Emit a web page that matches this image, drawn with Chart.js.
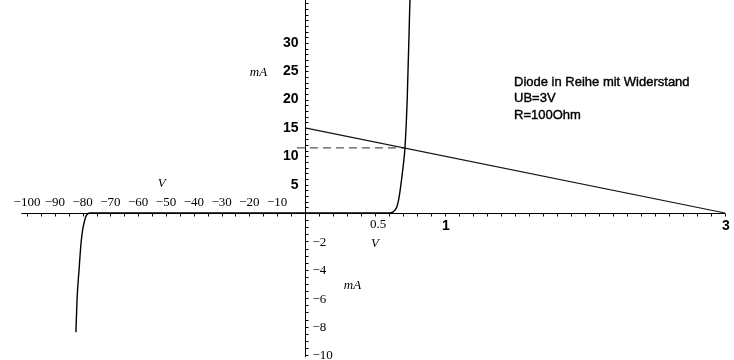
<!DOCTYPE html>
<html>
<head>
<meta charset="utf-8">
<script src="https://cdn.jsdelivr.net/npm/chart.js@4.4.0/dist/chart.umd.min.js"></script>
<style>
  html, body { margin: 0; padding: 0; background: #fff; }
  canvas { display: block; }
</style>
</head>
<body>
<canvas id="chart" width="734" height="360"></canvas>
<script>
// diode characteristic (V, mA)
const diodeV = [-82.4, -82.0, -81.2, -80.6, -80.0, -79.3, -78.6, -77.3, 0.6, 0.63, 0.655, 0.67, 0.683, 0.70, 0.714, 0.73, 0.75]
const diodeI = [-8.4, -6.1, -3.8, -2.2, -1.2, -0.55, -0.15, 0, 0, 0.2, 1, 2.5, 4.6, 8, 11.5, 20, 38]
// load line UB=3V, R=100Ohm
const loadV = [0, 3]
const loadI = [15, 0]
// operating point helper line
const opV = [-2.9, 0.714]
const opI = [11.5, 11.5]

const negXTicks = [-100, -90, -80, -70, -60, -50, -40, -30, -20, -10]
const posYTicks = [5, 10, 15, 20, 25, 30]
const negYTicks = [-2, -4, -6, -8, -10]
const posXTicks = [0.5, 1, 3]
const notes = ["Diode in Reihe mit Widerstand", "UB=3V", "R=100Ohm"]

// the plot uses different scales on each side of the origin
const XNEG = 2.78 / 140
const YNEG = 14.2 / 5.67
const tx = v => v >= 0 ? v : v * XNEG
const ty = i => i >= 0 ? i : i * YNEG
const pts = (xs, ys) => xs.map((x, k) => ({ x: tx(x), y: ty(ys[k]) }))

const serif = '"Liberation Serif", "DejaVu Serif", serif'
const sans = '"Liberation Sans", Arial, sans-serif'
const MINUS = '\u2212'

const axesPlugin = {
  id: 'mapleAxes',
  beforeDatasetsDraw(chart) {
    const ctx = chart.ctx
    const xs = chart.scales.x, ys = chart.scales.y
    const X = v => xs.getPixelForValue(tx(v))
    const Y = i => ys.getPixelForValue(ty(i))
    const x0 = Math.round(X(0)) + 0.5
    const y0 = Math.round(Y(0)) + 0.5
    ctx.save()
    ctx.strokeStyle = '#000'
    ctx.lineWidth = 1
    ctx.beginPath()
    // x axis
    ctx.moveTo(X(-102), y0); ctx.lineTo(X(3), y0)
    // y axis
    ctx.moveTo(x0, 0); ctx.lineTo(x0, Y(-10.15))
    // x ticks
    for (let v = -100; v < 0; v += 5) { const p = Math.round(X(v)) + 0.5; ctx.moveTo(p, y0); ctx.lineTo(p, y0 + 3) }
    for (let k = 1; k <= 30; k++) { const p = Math.round(X(k / 10)) + 0.5; ctx.moveTo(p, y0); ctx.lineTo(p, y0 + 3) }
    // y ticks
    for (let k = 1; k <= 37; k++) { const p = Math.round(Y(k)) + 0.5; ctx.moveTo(x0, p); ctx.lineTo(x0 + 3, p) }
    for (let k = 1; k <= 20; k++) { const p = Math.round(Y(-k / 2)) + 0.5; ctx.moveTo(x0, p); ctx.lineTo(x0 + 3, p) }
    ctx.stroke()

    ctx.fillStyle = '#000'
    ctx.textBaseline = 'middle'
    ctx.textAlign = 'center'
    ctx.font = '13px ' + serif
    negXTicks.forEach(v => ctx.fillText(MINUS + Math.abs(v), X(v), y0 - 11))
    ctx.textAlign = 'right'
    ctx.font = 'bold 14px ' + sans
    posYTicks.forEach(i => ctx.fillText(String(i), x0 - 7, Y(i)))
    ctx.textAlign = 'left'
    ctx.font = '13px ' + serif
    negYTicks.forEach(i => ctx.fillText(MINUS + Math.abs(i), x0 + 7, Y(i) + 1))
    ctx.textAlign = 'center'
    posXTicks.forEach(v => {
      if (v < 1) { ctx.font = '13px ' + serif; ctx.fillText(String(v), X(v) + 3, y0 + 11) }
      else { ctx.font = 'bold 14px ' + sans; ctx.fillText(String(v), X(v) + 1, y0 + 13) }
    })
    // axis titles
    ctx.font = 'italic 13px ' + serif
    ctx.fillText('V', X(-51.5), y0 - 30)
    ctx.fillText('mA', x0 - 47, Y(24.7))
    ctx.fillText('V', X(0.5), y0 + 30)
    ctx.fillText('mA', x0 + 47, Y(-5.1))
    // annotation, slightly heavier like the original
    ctx.textAlign = 'left'
    ctx.font = '13px ' + sans
    ctx.lineWidth = 0.4
    notes.forEach((t, k) => {
      ctx.fillText(t, 514, 82 + k * 16.5)
      ctx.strokeText(t, 514, 82 + k * 16.5)
    })
    ctx.restore()
  }
}

new Chart(document.getElementById('chart'), {
  type: 'line',
  data: {
    datasets: [
      { label: 'Diode', data: pts(diodeV, diodeI), borderColor: '#000', borderWidth: 1.4, pointRadius: 0, cubicInterpolationMode: 'monotone' },
      { label: 'Widerstand', data: pts(loadV, loadI), borderColor: '#111', borderWidth: 1.2, pointRadius: 0 },
      { label: 'Arbeitspunkt', data: pts(opV, opI), borderColor: '#555', borderWidth: 1.2, borderDash: [8, 5], pointRadius: 0 }
    ]
  },
  options: {
    responsive: false,
    animation: false,
    devicePixelRatio: 1,
    layout: { padding: 0 },
    plugins: { legend: { display: false }, tooltip: { enabled: false } },
    scales: {
      x: { type: 'linear', display: false, min: -305 / 140, max: 429 / 140 },
      y: { type: 'linear', display: false, min: -147 / 5.67, max: 213 / 5.67 }
    }
  },
  plugins: [axesPlugin]
})
</script>
</body>
</html>
